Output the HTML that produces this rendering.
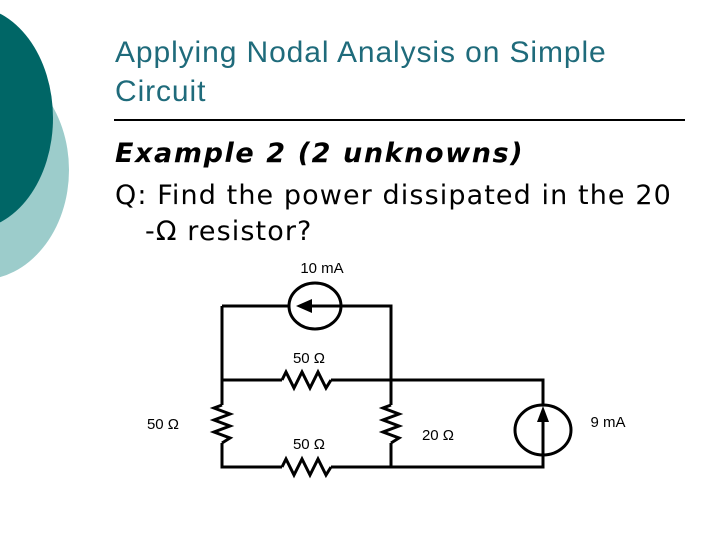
<!DOCTYPE html>
<html><head><style>
body{margin:0;width:720px;height:540px;background:#fff;position:relative;overflow:hidden;font-family:"Liberation Sans",sans-serif}
.t{position:absolute;left:115px;top:33px;font-size:30px;letter-spacing:0.9px;color:#1f6b7b;line-height:39px;white-space:nowrap}
.hr{position:absolute;left:114px;top:119px;width:571px;height:2px;background:#000}
.m{position:absolute;left:115px;font-family:"DejaVu Sans",Verdana,sans-serif;font-size:27px;color:#000;white-space:pre;letter-spacing:1.1px;line-height:34px}
</style></head><body>
<svg width="720" height="540" style="position:absolute;left:0;top:0">
<ellipse cx="-20" cy="170" rx="89" ry="110" fill="#9ccccb"/>
<ellipse cx="-30" cy="118" rx="83" ry="112" fill="#006666"/>
<g stroke="#000" stroke-width="3" fill="none" stroke-linejoin="miter">
<path d="M222 306H289M341 306H391V380H543V405M543 455V467H391V443M391 405V380M222 306V405M222 443V467H282M331 467H391M222 380H282M331 380H391"/>
<path d="M282 380l4 -8l8 16l8 -16l8 16l8 -16l8 16l5 -8"/>
<path d="M282 467l4 -8l8 16l8 -16l8 16l8 -16l8 16l5 -8"/>
<path d="M222 405l-8 3l16 6l-16 6l16 6l-16 6l16 6l-8 5"/>
<path d="M391 405l-8 3l16 6l-16 6l16 6l-16 6l16 6l-8 5"/>
<ellipse cx="315" cy="306" rx="26" ry="23"/>
<ellipse cx="543" cy="430" rx="28" ry="25"/>
<path d="M312 306H341M543 420V455"/>
</g>
<path d="M296 306l16 -7v14z" fill="#000"/>
<path d="M543 406l-6 16h12z" fill="#000"/>
<g font-size="15" font-family="Liberation Sans,sans-serif" text-anchor="middle">
<text x="322" y="273">10 mA</text>
<text x="309" y="363">50 Ω</text>
<text x="163" y="429">50 Ω</text>
<text x="438" y="440">20 Ω</text>
<text x="608" y="427">9 mA</text>
<text x="309" y="449">50 Ω</text>
</g>
</svg>
<div class="t">Applying Nodal Analysis on Simple<br>Circuit</div>
<div class="hr"></div>
<div class="m" style="top:137px;font-weight:bold;font-style:italic;letter-spacing:1.6px">Example 2 (2 unknowns)</div>
<div class="m" style="top:179px">Q: Find the power dissipated in the 20</div>
<div class="m" style="top:215px;left:145px">-Ω resistor?</div>
</body></html>
